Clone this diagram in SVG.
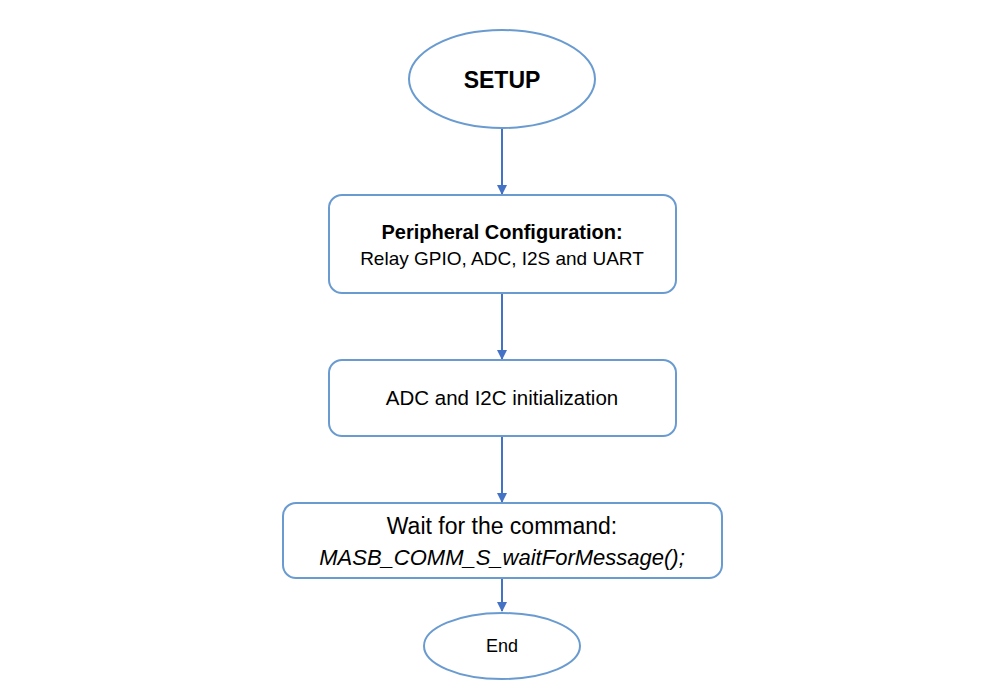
<svg xmlns="http://www.w3.org/2000/svg" width="1003" height="696" viewBox="0 0 1003 696">
<defs>
<marker id="ah" markerWidth="10" markerHeight="10" refX="9" refY="5" orient="auto" markerUnits="userSpaceOnUse">
<path d="M0,0 L10,5 L0,10 Z" fill="#4472C4"/>
</marker>
<style>
.n{fill:#fff;stroke:#6A9BD0;stroke-width:2}
.c{stroke:#4472C4;stroke-width:2;fill:none;marker-end:url(#ah)}
text{font-family:"Liberation Sans",Arial,sans-serif;fill:#000;text-anchor:middle}
</style>
</defs>
<rect width="1003" height="696" fill="#fff"/>
<g id="connectors">
<line class="c" x1="502" y1="128" x2="502" y2="194"/>
<line class="c" x1="502" y1="293" x2="502" y2="359"/>
<line class="c" x1="502" y1="436" x2="502" y2="502"/>
<line class="c" x1="502" y1="578" x2="502" y2="611"/>
</g>
<g id="setup">
<ellipse class="n" cx="502" cy="79" rx="93" ry="49"/>
<text x="502" y="88" font-size="23" font-weight="bold">SETUP</text>
</g>
<g id="peripheral">
<rect class="n" x="329" y="195" width="347" height="98" rx="13"/>
<text x="502" y="239" font-size="20" font-weight="bold">Peripheral Configuration:</text>
<text x="502" y="265" font-size="19">Relay GPIO, ADC, I2S and UART</text>
</g>
<g id="init">
<rect class="n" x="329" y="360" width="347" height="76" rx="13"/>
<text x="502" y="405" font-size="20.5">ADC and I2C initialization</text>
</g>
<g id="wait">
<rect class="n" x="283" y="503" width="439" height="75" rx="13"/>
<text x="502" y="534" font-size="23">Wait for the command:</text>
<text x="502" y="565" font-size="22" font-style="italic">MASB_COMM_S_waitForMessage();</text>
</g>
<g id="end">
<ellipse class="n" cx="502" cy="646" rx="78" ry="33"/>
<text x="502" y="652" font-size="18">End</text>
</g>
</svg>
